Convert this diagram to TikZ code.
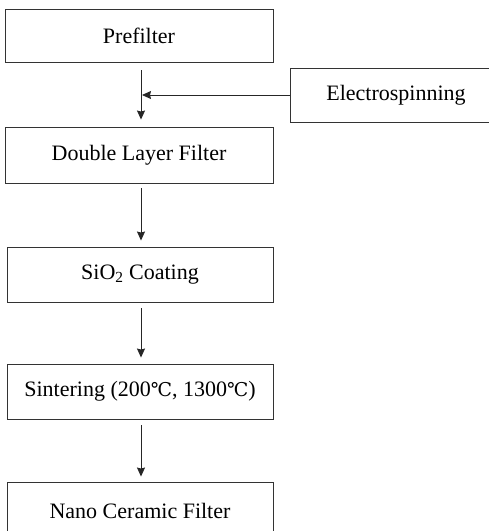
\documentclass[tikz,border=0pt]{standalone}
\usepackage{fontspec}
\setmainfont{Liberation Serif}
\newfontfamily\degfont{DejaVu Serif}
\newcommand{\degC}{{\degfont\fontsize{19}{23}\selectfont ℃}}
\usetikzlibrary{arrows.meta}
\tikzset{
	stagebox/.style={draw=black!80, line width=0.9pt, minimum width=266pt, minimum height=55pt, inner sep=0pt, font=\fontsize{22}{26}\selectfont},
	flowarrow/.style={draw=black!85, line width=0.9pt, -{Stealth[length=9pt,width=8pt,inset=1pt]}}
}

\begin{document}
\begin{tikzpicture}[x=1pt, y=-1pt]
		%%%%% START %%%%%
		
		\clip (0, 0) rectangle (489, 531);
		
		\node[stagebox, minimum width=268pt, minimum height=53pt] (prefilter) at (139, 35.5) {Prefilter};
		\node[stagebox, minimum width=212pt, minimum height=54pt] (elec) at (396, 95) {Electrospinning};
		\node[stagebox, minimum width=268pt, minimum height=56pt] (double) at (139, 155) {Double Layer Filter};
		\node[stagebox] (coating) at (140, 274.5) {SiO\textsubscript{2} Coating};
		\node[stagebox] (sinter) at (140, 391.5) {Sintering (200\degC, 1300\degC)};
		\node[stagebox, minimum height=57pt] (nano) at (140, 510.5) {Nano Ceramic Filter};
		
		\coordinate (joint) at (141, 95);
		
		\draw[flowarrow, shorten <=8pt, shorten >=7pt] (prefilter.south -| joint) -- (double.north -| joint);
		\draw[flowarrow, shorten >=1pt] (elec.west) -- (joint);
		
		\draw[flowarrow, shorten <=5pt, shorten >=6pt] (double.south -| joint) -- (coating.north -| joint);
		\draw[flowarrow, shorten <=6pt, shorten >=6pt] (coating.south -| joint) -- (sinter.north -| joint);
		\draw[flowarrow, shorten <=6pt, shorten >=5pt] (sinter.south -| joint) -- (nano.north -| joint);
		
		%%%%% END %%%%%
	\end{tikzpicture}
\end{document}
